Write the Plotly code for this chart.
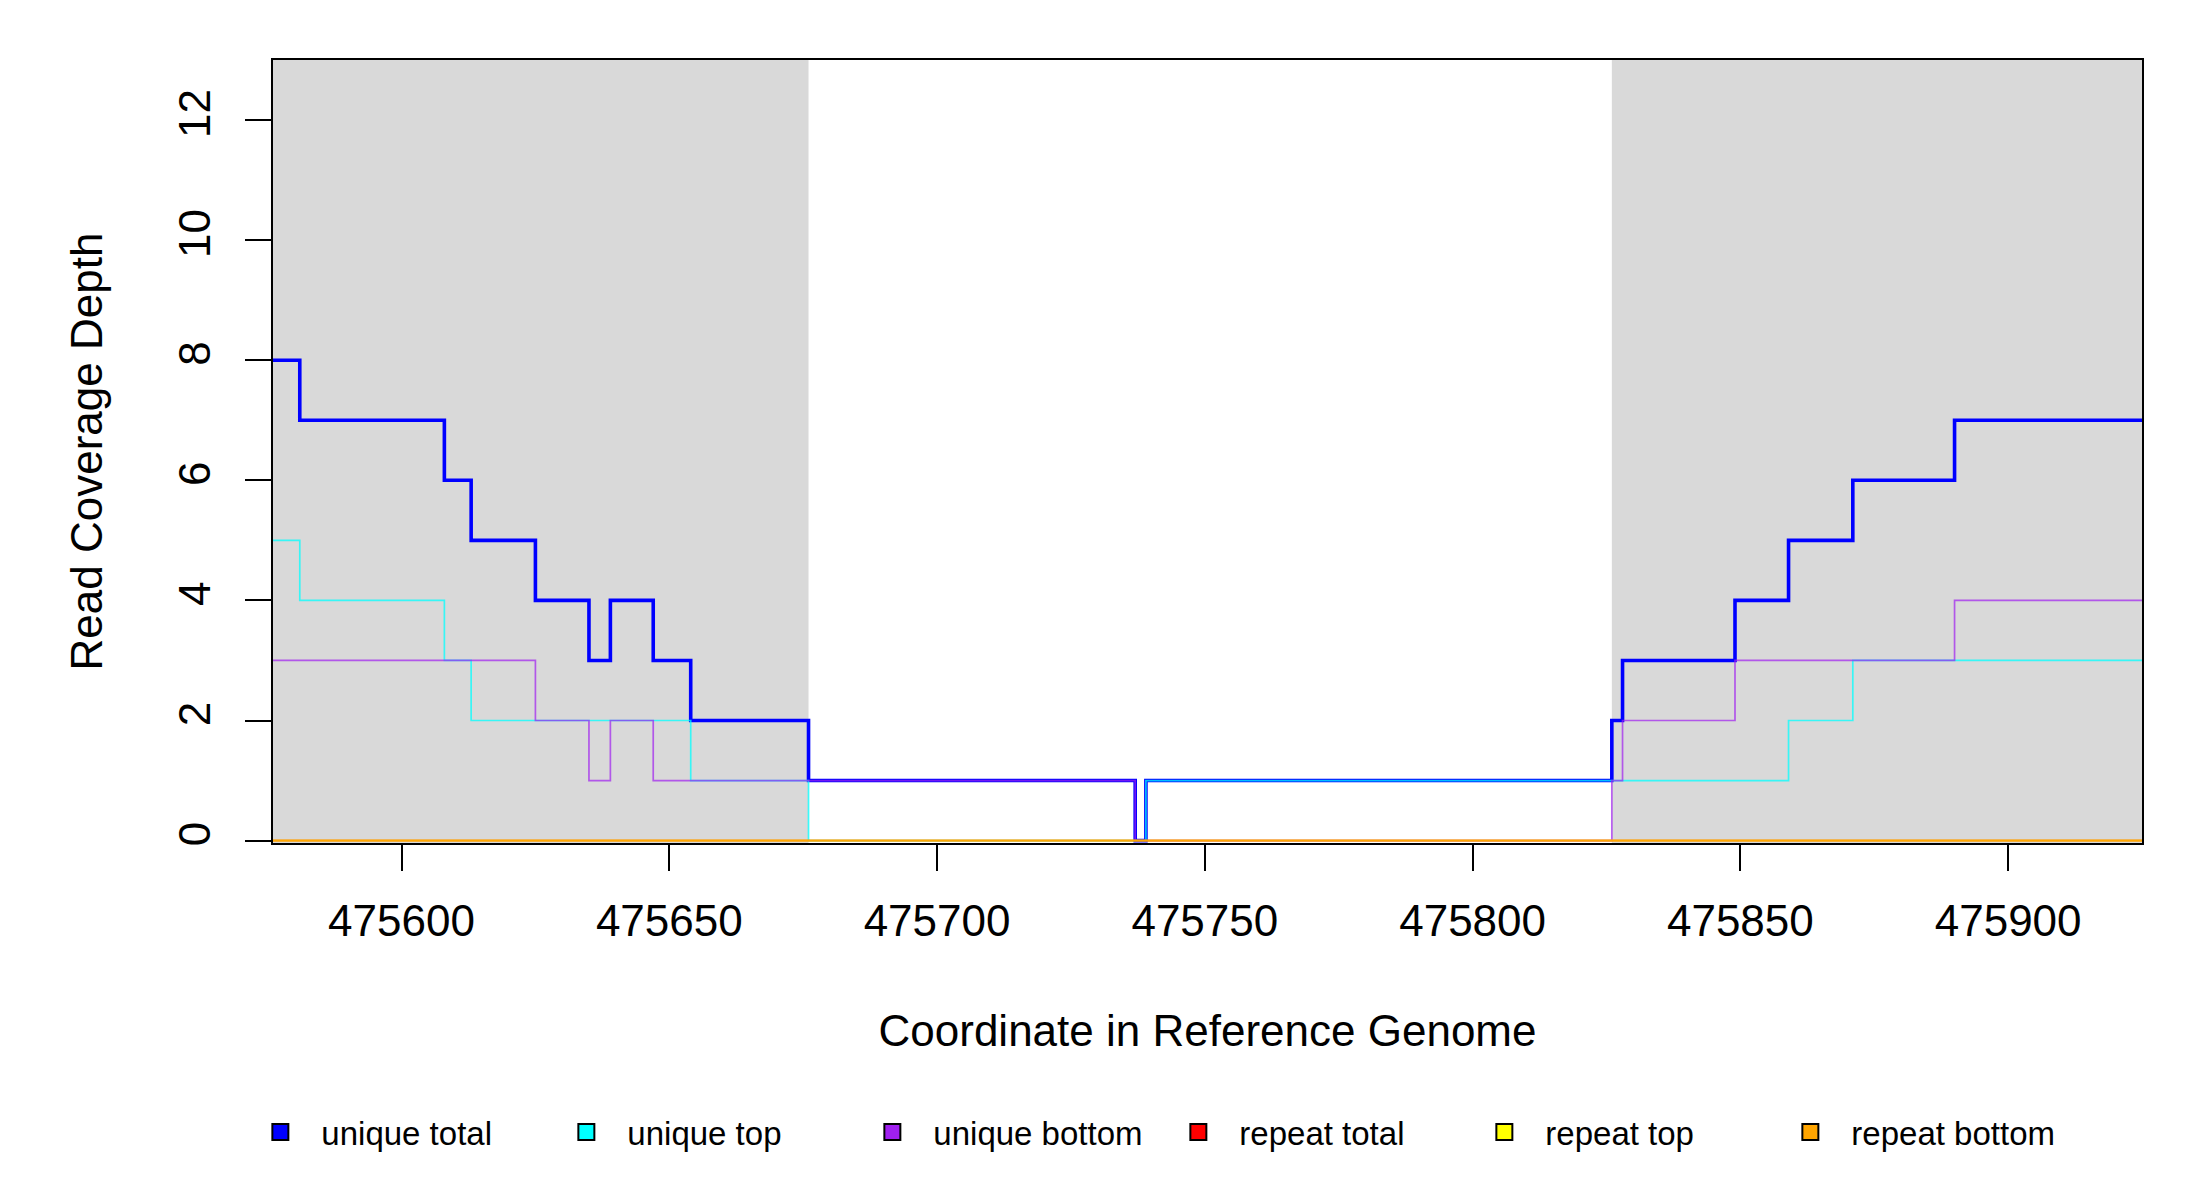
import plotly.graph_objects as go

# coverage breakpoints along the reference (step boundaries)
breaks = [475576, 475581, 475608, 475613, 475625, 475635, 475639, 475647, 475654,
          475676, 475737, 475739, 475826, 475828, 475849, 475859, 475871, 475890, 475925]

# depth on each segment between consecutive breakpoints
unique_total = [8, 7, 6, 5, 4, 3, 4, 3, 2, 1, 0, 1, 2, 3, 4, 5, 6, 7]
unique_top = [5, 4, 3, 2, 2, 2, 2, 2, 1, 0, 0, 1, 1, 1, 1, 2, 3, 3]
unique_bottom = [3, 3, 3, 3, 2, 1, 2, 1, 1, 1, 0, 0, 1, 2, 3, 3, 3, 4]
repeat_total = [0] * 18
repeat_top = [0] * 18
repeat_bottom = [0] * 18

# grey flanking regions
flanks = [(475576, 475676), (475826, 475925)]

x_range = [475576, 475925]
x_ticks = [475600, 475650, 475700, 475750, 475800, 475850, 475900]
y_ticks = [0, 2, 4, 6, 8, 10, 12]

series = [
    ("unique total", unique_total, "#0000FF", "rgba(0,0,255,1)", 3.6),
    ("unique top", unique_top, "#00FFFF", "rgba(0,255,255,0.75)", 1.7),
    ("unique bottom", unique_bottom, "#A020F0", "rgba(160,32,240,0.7)", 1.7),
    ("repeat total", repeat_total, "#FF0000", "rgba(255,0,0,0.6)", 1.7),
    ("repeat top", repeat_top, "#FFFF00", "rgba(255,255,0,0.6)", 1.7),
    ("repeat bottom", repeat_bottom, "#FFA500", "rgba(255,165,0,0.9)", 2),
]

FONT = "Liberation Sans, Arial, sans-serif"

fig = go.Figure()

for name, vals, _, rgba, w in series:
    fig.add_trace(go.Scatter(
        x=breaks, y=vals + [vals[-1]],
        mode="lines", line=dict(shape="hv", color=rgba, width=w),
        name=name, showlegend=False, hoverinfo="x+y+name",
    ))

# legend entries with square keys, like the original
for name, _, solid, _, _ in series:
    fig.add_trace(go.Scatter(
        x=[None], y=[None], mode="markers", name=name,
        marker=dict(symbol="square", size=16, color=solid,
                    line=dict(color="black", width=2)),
    ))

for x0, x1 in flanks:
    fig.add_shape(type="rect", xref="x", yref="paper", x0=x0, x1=x1, y0=0, y1=1,
                  fillcolor="#D9D9D9", line=dict(width=0), layer="below")

axis_common = dict(
    showline=True, linecolor="black", linewidth=1.5, mirror=True,
    ticks="outside", ticklen=26, tickwidth=1.5, tickcolor="black",
    showgrid=False, zeroline=False, automargin=False,
    tickfont=dict(family=FONT, size=44, color="black"),
)

fig.update_xaxes(
    range=x_range, tickvals=x_ticks, ticktext=[str(t) for t in x_ticks],
    ticklabelstandoff=12,
    title=dict(text="Coordinate in Reference Genome", standoff=72,
               font=dict(family=FONT, size=44, color="black")),
    **axis_common,
)
fig.update_yaxes(
    range=[-0.04, 13], tickvals=y_ticks, tickangle=-90, ticklabelstandoff=18,
    title=dict(text="Read Coverage Depth", standoff=53,
               font=dict(family=FONT, size=44, color="black")),
    **axis_common,
)

fig.update_layout(
    width=2200, height=1200,
    margin=dict(l=265, r=66, t=52, b=365),
    plot_bgcolor="white", paper_bgcolor="white",
    font=dict(family=FONT, color="black"),
    legend=dict(orientation="h", x=-0.018, xanchor="left", y=-0.369, yanchor="middle",
                font=dict(family=FONT, size=33, color="black"),
                itemwidth=72, entrywidth=219, entrywidthmode="pixels",
                bgcolor="rgba(0,0,0,0)"),
)

fig.write_html("out.html")
